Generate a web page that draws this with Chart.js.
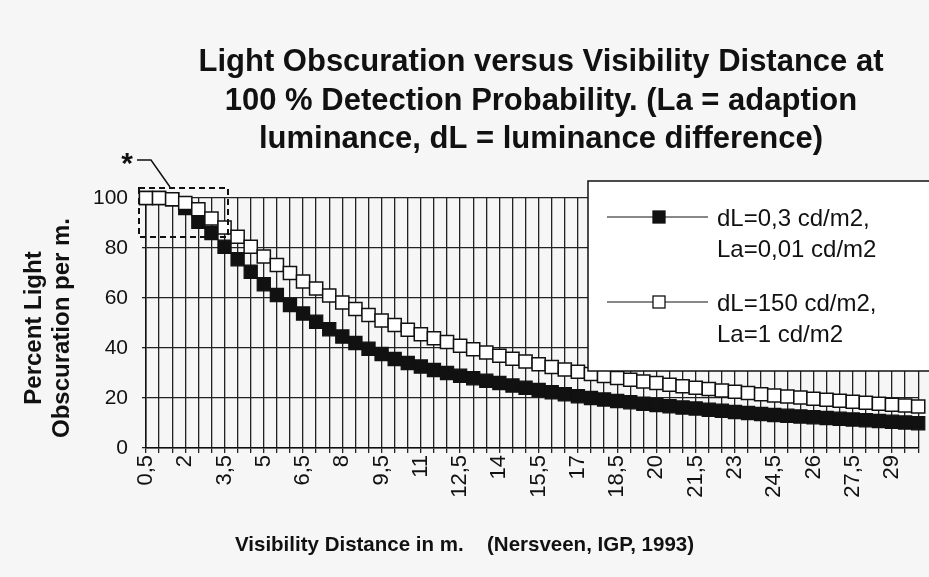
<!DOCTYPE html>
<html>
<head>
<meta charset="utf-8">
<script src="https://cdn.jsdelivr.net/npm/chart.js@4.4.0/dist/chart.umd.min.js"></script>
<style>
  html, body { margin: 0; padding: 0; background: #f6f6f6; }
  #wrap { width: 929px; height: 577px; }
</style>
</head>
<body>
<div id="wrap"><canvas id="lineChart" width="929" height="577"></canvas></div>
<script>
// visibility distance in m. (categories)
const distances = [
    '0,5', '1', '1,5', '2', '2,5', '3', '3,5', '4', '4,5', '5',
    '5,5', '6', '6,5', '7', '7,5', '8', '8,5', '9', '9,5', '10',
    '10,5', '11', '11,5', '12', '12,5', '13', '13,5', '14', '14,5', '15',
    '15,5', '16', '16,5', '17', '17,5', '18', '18,5', '19', '19,5', '20',
    '20,5', '21', '21,5', '22', '22,5', '23', '23,5', '24', '24,5', '25',
    '25,5', '26', '26,5', '27', '27,5', '28', '28,5', '29', '29,5', '30'
];

// dL=0,3 cd/m2, La=0,01 cd/m2 (filled squares)
const dl03 = [
    100, 100, 99.5, 96, 90.5, 86, 80.5, 75.5, 70.5, 65.5,
    61.2, 57.2, 53.8, 50.5, 47.5, 44.6, 42, 39.7, 37.6, 35.6,
    34, 32.6, 31.2, 30, 28.9, 27.9, 26.9, 26, 25, 24.1,
    23.2, 22.3, 21.5, 20.7, 20, 19.4, 18.8, 18.3, 17.7, 17.2,
    16.7, 16.2, 15.8, 15.3, 14.9, 14.4, 14, 13.6, 13.2, 12.9,
    12.6, 12.3, 12, 11.7, 11.4, 11.1, 10.8, 10.5, 10.2, 9.9
];

// dL=150 cd/m2, La=1 cd/m2 (open squares)
const dl150 = [
    100, 100, 99.5, 98, 95.5, 91.8, 88.2, 84.5, 80.5, 76.6,
    73.2, 70, 66.6, 63.8, 61, 58.2, 55.6, 53.2, 51, 49.2,
    47.3, 45.5, 43.9, 42.4, 40.9, 39.5, 38.2, 36.9, 35.7, 34.6,
    33.5, 32.4, 31.4, 30.5, 29.6, 28.8, 28, 27.3, 26.6, 26,
    25.3, 24.7, 24.1, 23.6, 23, 22.5, 22, 21.5, 21, 20.6,
    20.2, 19.7, 19.3, 18.9, 18.5, 18.1, 17.7, 17.3, 17, 16.6
];

const yTicks = [0, 20, 40, 60, 80, 100];

const titleLines = [
    'Light Obscuration versus Visibility Distance at',
    '100 % Detection Probability. (La = adaption',
    'luminance, dL = luminance difference)'
];
const yTitleLines = ['Percent Light', 'Obscuration per m.'];
const xTitle = 'Visibility Distance in m.';
const sourceNote = '(Nersveen, IGP, 1993)';
const legendLines = [
    ['dL=0,3 cd/m2,', 'La=0,01 cd/m2'],
    ['dL=150 cd/m2,', 'La=1 cd/m2']
];

const FONT = "'Liberation Sans', Arial, sans-serif";
const INK = '#111';

// titles, legend box and the dashed marker drawn on top of the chart
const decor = {
    id: 'decor',
    afterDatasetsDraw(chart) {
        const ctx = chart.ctx;
        ctx.save();
        ctx.fillStyle = INK;
        ctx.strokeStyle = INK;

        // main title
        ctx.font = 'bold 31px ' + FONT;
        ctx.textAlign = 'center';
        ctx.textBaseline = 'alphabetic';
        titleLines.forEach((t, i) => ctx.fillText(t, 541, 71 + i * 38.5));

        // y axis title
        ctx.save();
        ctx.translate(0, 328);
        ctx.rotate(-Math.PI / 2);
        ctx.font = 'bold 24px ' + FONT;
        ctx.textBaseline = 'middle';
        ctx.fillText(yTitleLines[0], 0, 34);
        ctx.fillText(yTitleLines[1], 0, 62);
        ctx.restore();

        // x axis title and source
        ctx.font = 'bold 20.5px ' + FONT;
        ctx.textAlign = 'left';
        ctx.textBaseline = 'middle';
        ctx.fillText(xTitle, 235, 545);
        ctx.fillText(sourceNote, 487, 545);

        // dashed box round the 100 % points
        ctx.setLineDash([6, 4]);
        ctx.lineWidth = 2;
        ctx.strokeRect(139, 188, 89, 49);
        ctx.setLineDash([]);
        ctx.lineWidth = 1.5;
        ctx.beginPath();
        ctx.moveTo(137, 160);
        ctx.lineTo(151, 160);
        ctx.lineTo(170, 187);
        ctx.stroke();
        ctx.font = 'bold 30px ' + FONT;
        ctx.textAlign = 'center';
        ctx.textBaseline = 'middle';
        ctx.fillText('*', 127, 165);

        // legend box
        ctx.fillStyle = '#fff';
        ctx.fillRect(588, 181, 360, 190);
        ctx.lineWidth = 1.5;
        ctx.strokeRect(588, 181, 360, 190);

        const entries = [chart.data.datasets[0], chart.data.datasets[1]];
        entries.forEach((ds, i) => {
            const y = 217 + i * 85;
            ctx.strokeStyle = INK;
            ctx.lineWidth = 1;
            ctx.beginPath();
            ctx.moveTo(607, y);
            ctx.lineTo(708, y);
            ctx.stroke();
            ctx.fillStyle = ds.pointBackgroundColor;
            ctx.fillRect(653, y - 6, 12, 12);
            ctx.lineWidth = 1.3;
            ctx.strokeRect(653, y - 6, 12, 12);
            ctx.fillStyle = INK;
            ctx.font = '24px ' + FONT;
            ctx.textAlign = 'left';
            ctx.textBaseline = 'middle';
            legendLines[i].forEach((t, j) => ctx.fillText(t, 717, y + 2 + j * 31));
        });

        ctx.restore();
    }
};

const ctx = document.getElementById('lineChart').getContext('2d');
const chart = new Chart(ctx, {
    type: 'line',
    data: {
        labels: distances,
        datasets: [{
            label: legendLines[0].join(' '),
            data: dl03,
            borderColor: INK,
            borderWidth: 1,
            backgroundColor: INK,
            pointStyle: 'rect',
            pointRadius: 9.3,
            pointBackgroundColor: INK,
            pointBorderColor: INK,
            pointBorderWidth: 1.2,
            clip: false,
            order: 2
        }, {
            label: legendLines[1].join(' '),
            data: dl150,
            borderColor: INK,
            borderWidth: 1,
            backgroundColor: '#fff',
            pointStyle: 'rect',
            pointRadius: 9.3,
            pointBackgroundColor: '#fff',
            pointBorderColor: INK,
            pointBorderWidth: 1.5,
            clip: false,
            order: 1
        }]
    },
    options: {
        responsive: false,
        animation: false,
        devicePixelRatio: 1,
        layout: {
            padding: { top: 198, right: 4, left: 0, bottom: 0 }
        },
        plugins: {
            legend: { display: false },
            title: { display: false },
            tooltip: { enabled: false }
        },
        scales: {
            x: {
                offset: false,
                grid: { color: '#222', lineWidth: 1.3, tickLength: 5 },
                border: { color: INK, width: 1.5 },
                ticks: {
                    autoSkip: false,
                    minRotation: 90,
                    maxRotation: 90,
                    padding: 2,
                    color: INK,
                    font: { family: FONT, size: 22 },
                    callback: function (value, index) {
                        return index % 3 === 0 ? this.getLabelForValue(value) : '';
                    }
                },
                afterFit: function (scale) {
                    scale.height = 129;
                    scale.paddingLeft = 0;
                    scale.paddingRight = 0;
                }
            },
            y: {
                min: 0,
                max: 100,
                afterBuildTicks: function (scale) {
                    scale.ticks = yTicks.map(v => ({ value: v }));
                },
                grid: { color: '#222', lineWidth: 1.3, tickLength: 4 },
                border: { color: INK, width: 1.5 },
                ticks: {
                    padding: 14,
                    color: INK,
                    font: { family: FONT, size: 21 }
                },
                afterFit: function (scale) {
                    scale.width = 146;
                    scale.paddingTop = 0;
                    scale.paddingBottom = 0;
                }
            }
        }
    },
    plugins: [decor]
});
</script>
</body>
</html>
